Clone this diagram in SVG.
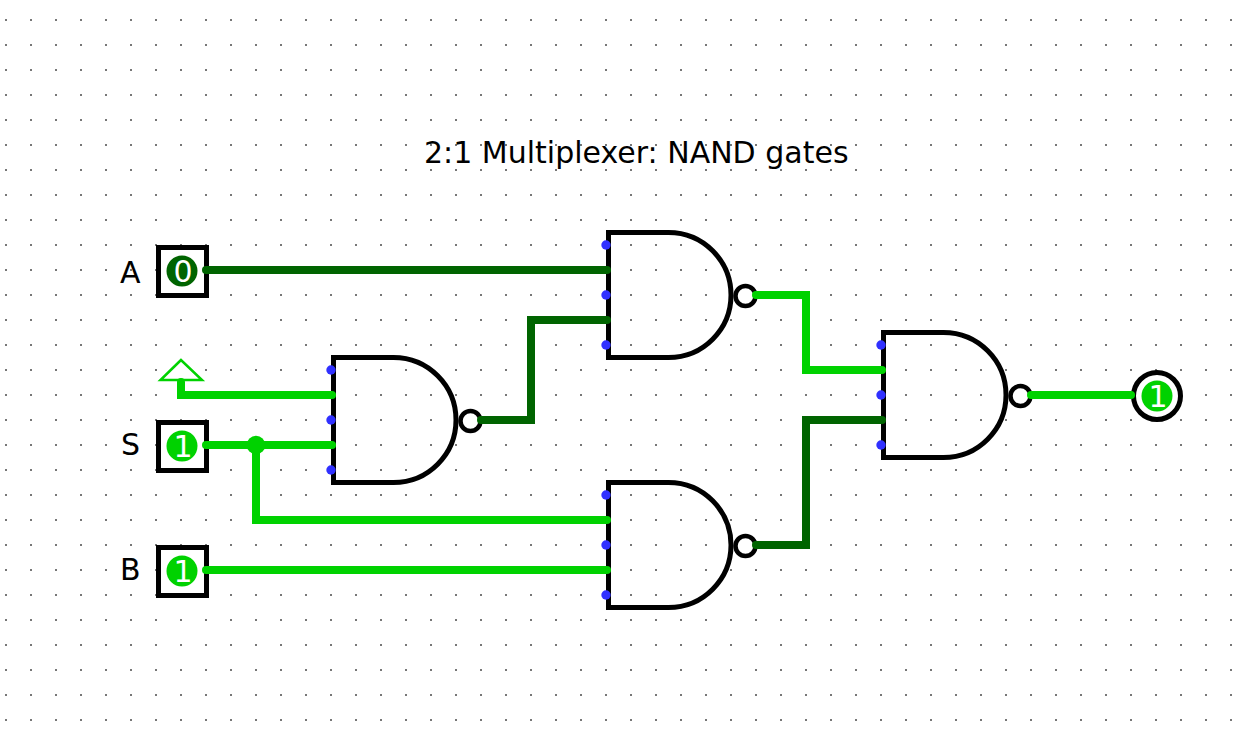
<svg xmlns="http://www.w3.org/2000/svg" width="1247" height="734" viewBox="0 0 1247 734">
<style>
text{font-family:"DejaVu Sans",sans-serif}
.lbl{font-size:30px;fill:#000}
.val{font-size:30px;fill:#fff;text-anchor:middle}
.box{fill:#fff;stroke:#000;stroke-width:5}
.body{fill:none;stroke:#000;stroke-width:5}
.bub{fill:none;stroke:#000;stroke-width:4.5}
.pin{fill:#3030ff}
.w{fill:none;stroke-width:8;stroke-linejoin:miter;stroke-linecap:round}
.on{stroke:#00d200}.off{stroke:#006400}
.fon{fill:#00d200}.foff{fill:#006400}
</style>
<defs>
<pattern id="grid" patternUnits="userSpaceOnUse" x="5" y="19" width="25" height="25"><rect width="2" height="2" fill="#777"/></pattern>
<g id="nand">
<circle class="bub" cx="137" cy="63.500" r="10"/>
<path class="body" d="M0 0H60A62.500 62.500 0 0 1 60 125H0Z"/>
<circle class="pin" cx="-2.500" cy="12.500" r="4.700"/>
<circle class="pin" cx="-2.500" cy="62.500" r="4.700"/>
<circle class="pin" cx="-2.500" cy="112.500" r="4.700"/>
</g>
</defs>
<rect width="1247" height="734" fill="#fff"/>
<rect id="dots" width="1247" height="734" fill="url(#grid)"/>
<text x="424" y="163" style="font-size:30px">2:1 Multiplexer: NAND gates</text>
<g id="gate1"><use href="#nand" x="608.500" y="232.500"/></g>
<g id="gate2"><use href="#nand" x="333.500" y="357.500"/></g>
<g id="gate3"><use href="#nand" x="608.500" y="482.500"/></g>
<g id="gate4"><use href="#nand" x="883.500" y="332.500"/></g>
<g id="inputA"><text class="lbl" x="120" y="283">A</text><rect class="box" x="158.500" y="247.500" width="48" height="48"/><circle class="foff" cx="182" cy="271" r="15.500"/><text class="val" x="183" y="282">0</text></g>
<g id="clockS"><path d="M181 360L160.500 380H202Z" fill="#fff" stroke="#00d200" stroke-width="2.500"/></g>
<g id="inputS"><text class="lbl" x="121" y="455">S</text><rect class="box" x="158.500" y="422.500" width="48" height="48"/><circle class="fon" cx="182" cy="446" r="15.500"/><text class="val" x="183" y="457">1</text></g>
<g id="inputB"><text class="lbl" x="120" y="580">B</text><rect class="box" x="158.500" y="547.500" width="48" height="48"/><circle class="fon" cx="182" cy="571" r="15.500"/><text class="val" x="183" y="582">1</text></g>
<g id="output"><circle fill="#fff" stroke="#000" stroke-width="5" cx="1157" cy="396" r="23.500"/><circle class="fon" cx="1157" cy="396" r="15.500"/><text class="val" x="1158" y="407">1</text></g>
<g id="connectors">
<path class="w off" d="M206 270H607"/>
<path class="w on" d="M181 382V395H332"/>
<path class="w on" d="M206 445H332"/>
<path class="w on" d="M256 445V520H607"/>
<circle class="fon" cx="256" cy="445" r="9.300"/>
<path class="w on" d="M206 570H607"/>
<path class="w off" d="M481 420H531V320H607"/>
<path class="w on" d="M756 295H806V370H882"/>
<path class="w off" d="M756 545H806V420H882"/>
<path class="w on" d="M1031 395H1131"/>
</g>
</svg>
